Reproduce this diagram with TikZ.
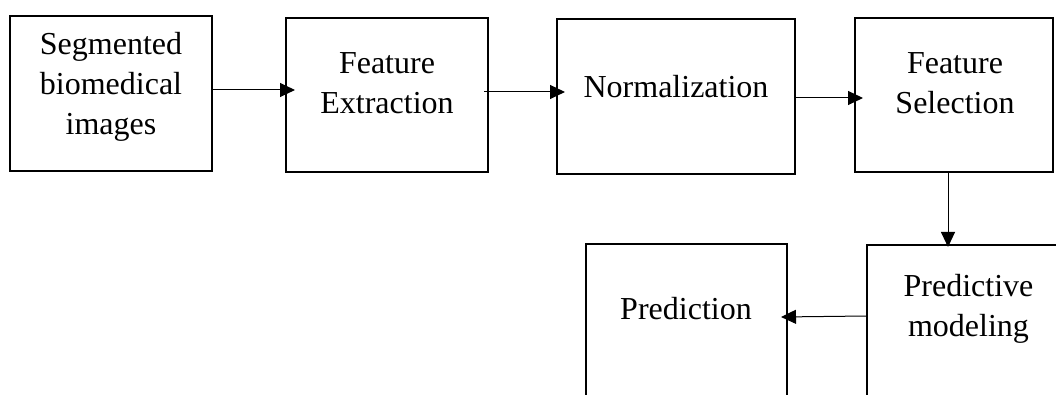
\documentclass[tikz,border=0pt]{standalone}
\usepackage{fontspec}
\setmainfont{Liberation Serif}
\usetikzlibrary{arrows.meta,calc}
\begin{document}
\begin{tikzpicture}[x=1pt,y=1pt,
  box/.style={draw,line width=2.4pt,inner sep=0pt,outer sep=0pt},
  lbl/.style={inner sep=0pt,outer sep=0pt,align=center,anchor=base,
    font=\fontsize{32}{40}\selectfont},
  arr/.style={line width=1pt,-{Triangle[length=15pt,width=14pt]}}]
\useasboundingbox (0,0) rectangle (1056,395);
\clip (0,0) rectangle (1056,395);
% boxes
\node[box,minimum width=202pt,minimum height=155pt] (b1) at (111,301.5) {};
\node[box,minimum width=202pt,minimum height=154pt] (b2) at (387,300) {};
\node[box,minimum width=238pt,minimum height=155pt] (b3) at (676,298.5) {};
\node[box,minimum width=198pt,minimum height=154pt] (b4) at (954,300) {};
\node[box,minimum width=220pt,minimum height=200pt] (b5) at (977,50) {};
\node[box,minimum width=201pt,minimum height=200pt] (b6) at (686.5,51) {};
% texts
\node[lbl] (t1) at (111,260) {Segmented\\biomedical\\images};
\node[lbl] (t2) at (387,281) {Feature\\Extraction};
\node[lbl] (t3) at (676,297) {Normalization};
\node[lbl] (t4) at (955,281) {Feature\\Selection};
\node[lbl] (t5) at (968.5,58) {Predictive\\modeling};
\node[lbl] (t6) at (686,75) {Prediction};
% arrows
\draw[arr] (b1.east |- 0,305) -- ([xshift=9pt]b2.west |- 0,305);
\draw[arr] ([xshift=-4pt]b2.east |- 0,303) -- ([xshift=8pt]b3.west |- 0,303);
\draw[arr] (b3.east |- 0,297) -- ([xshift=8pt]b4.west |- 0,297);
\draw[arr] (b4.south -| 948,0) -- ([yshift=-2pt]b5.north -| 948,0);
\draw[arr] (b5.west |- 0,79) -- ([xshift=-6pt]b6.east |- 0,78);
\end{tikzpicture}
\end{document}
